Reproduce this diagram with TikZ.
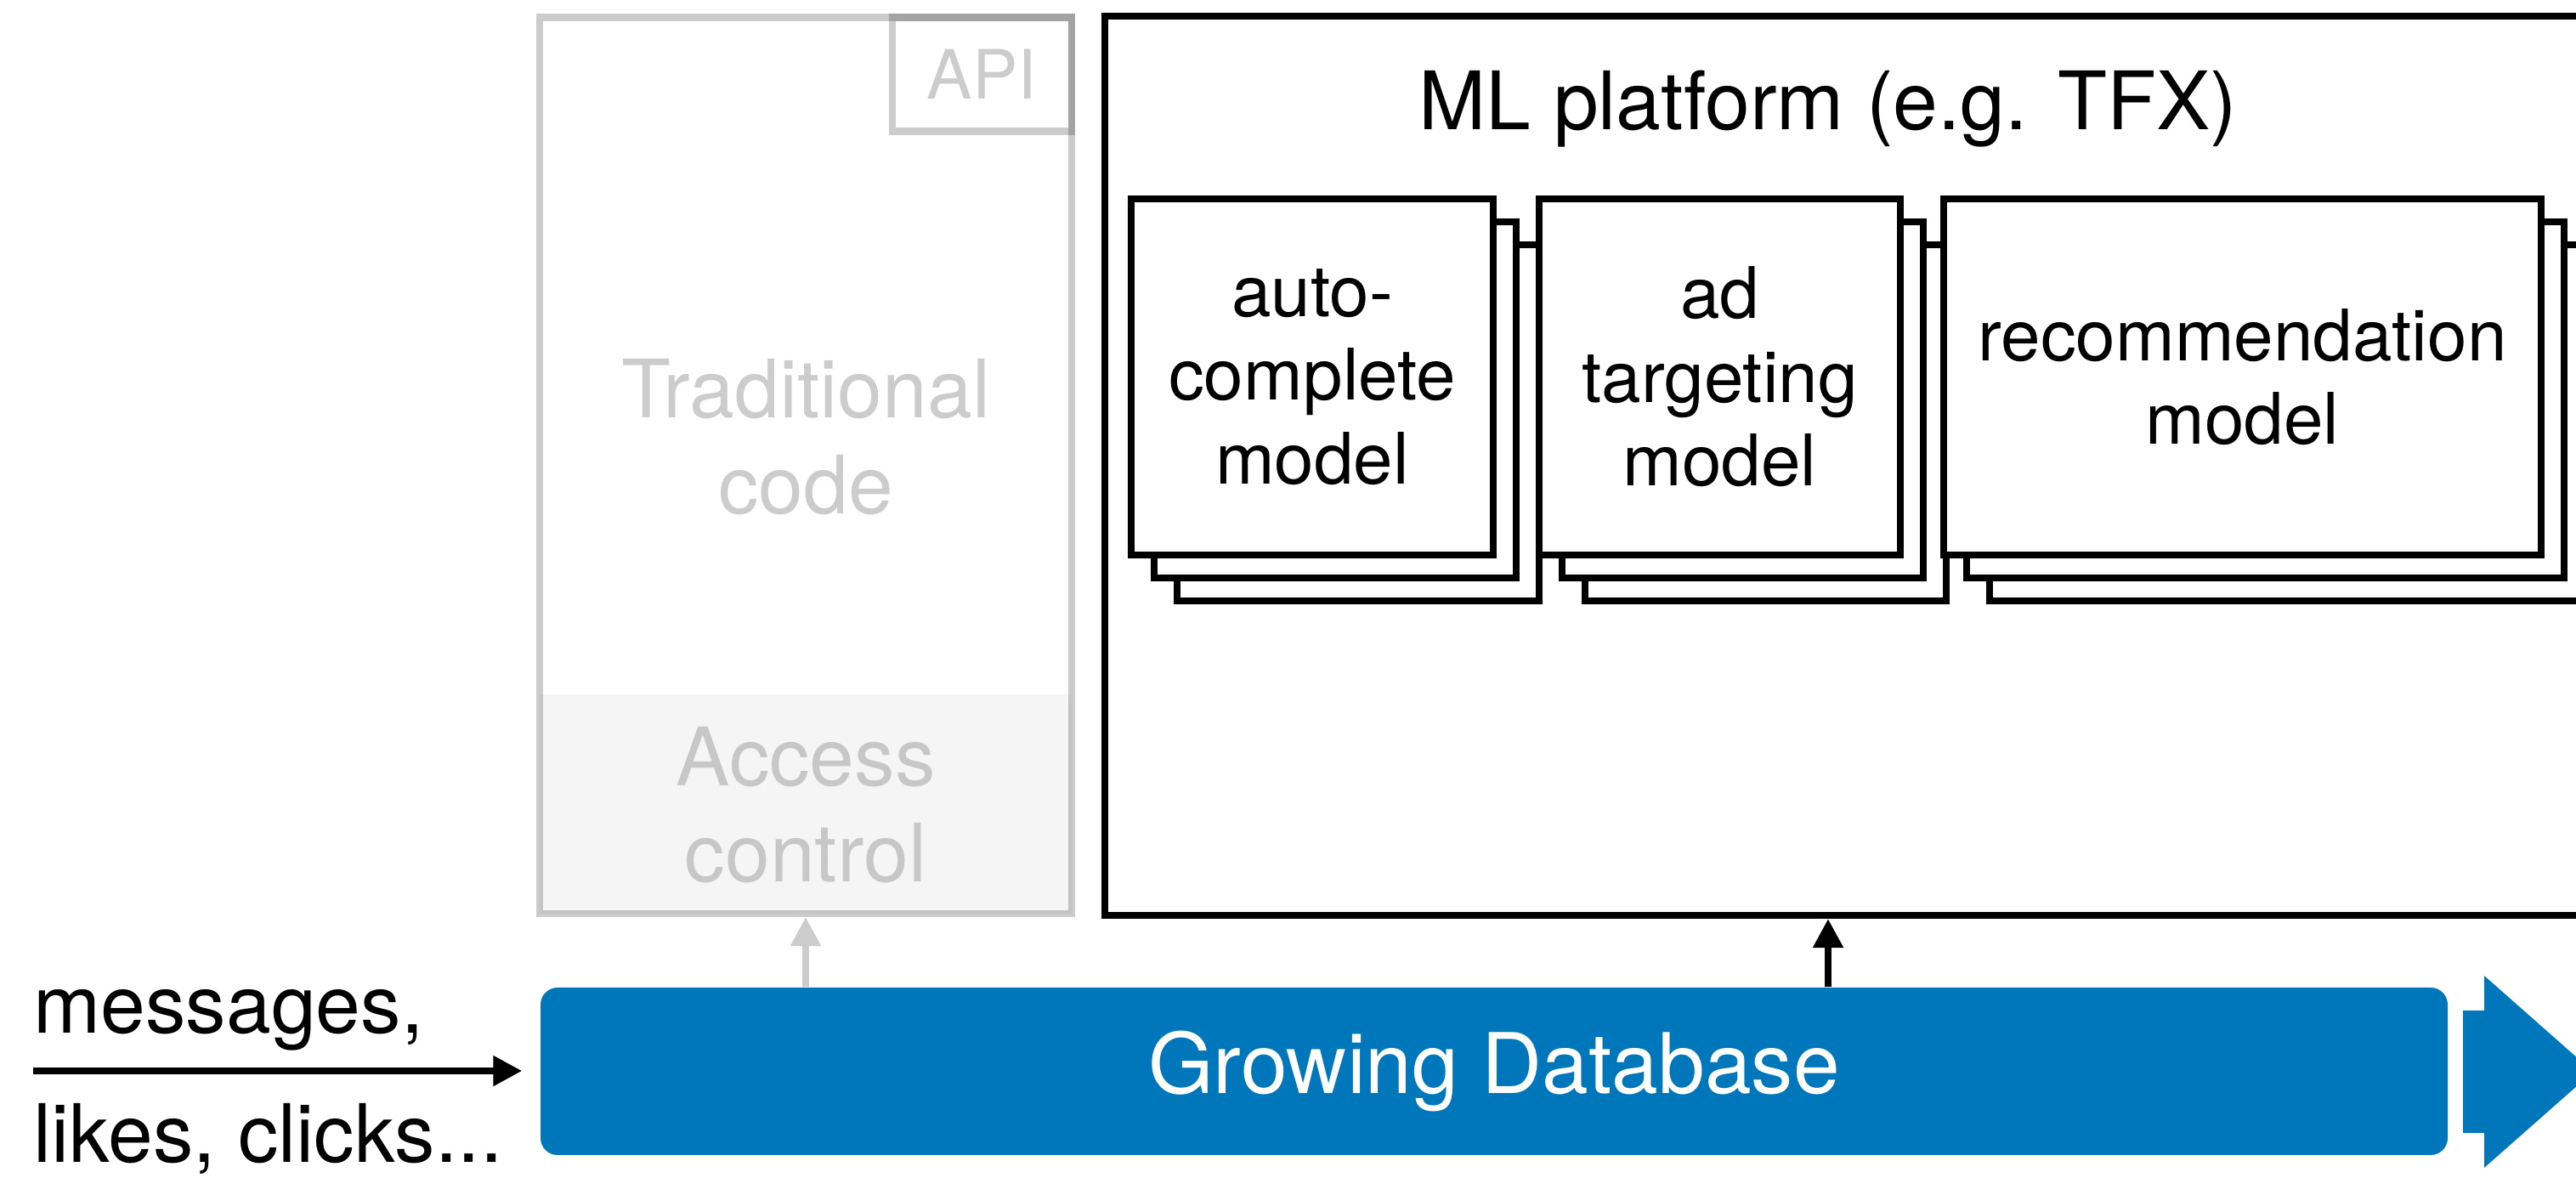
\documentclass[tikz,border=0pt]{standalone}
\usepackage{fontspec}
\setmainfont{TeX Gyre Heros}
\usepackage{xcolor}
\usepackage{tikz}
\usetikzlibrary{arrows.meta,positioning}
\definecolor{dbblue}{HTML}{0077BA}

\begin{document}
\begin{tikzpicture}[
    greybox/.style={draw=black, draw opacity=0.2, line width=2.3pt},
    modelbox/.style={draw, line width=2.1pt, fill=white, minimum height=4.19cm, align=center, font=\fontsize{23.8}{28}\selectfont},
    bigtext/.style={font=\fontsize{27}{32}\selectfont, align=center},
    uparrow/.style={line width=2.3pt, -{Triangle[length=0.34cm,width=0.34cm]}}
]
\useasboundingbox (0,0) rectangle (30.31,13.86);
\clip (0,0) rectangle (30.31,13.86);

% Traditional code
\fill[black!4] (6.35,3.11) rectangle (12.61,5.69);
\node[greybox, minimum width=6.26cm, minimum height=10.545cm] (trad) at (9.48,8.3825) {};
\node[greybox, minimum width=2.11cm, minimum height=1.34cm, text=black!20, font=\fontsize{22.8}{27}\selectfont] (api) at (11.555,12.985) {API};
\node[bigtext, text=black!20] (tradtext) at (9.48,8.72) {Traditional\\code};
\node[bigtext, text=black!22] (access) at (9.48,4.39) {Access\\control};

% ML platform
\node[draw, line width=2.3pt, minimum width=18.5cm, minimum height=10.58cm] (ml) at (22.25,8.38) {};
\node[bigtext] (title) at (21.51,12.58) {ML platform (e.g. TFX)};

% Model stacks
\foreach \n/\x/\w/\txt in {ac/15.44/4.26/{auto-\\complete\\model}, ad/20.235/4.25/{ad\\targeting\\model}, rec/26.385/7.03/{recommendation\\model}} {
    \node[modelbox, minimum width=\w cm] (\n3) at (\x+0.54,9.425-0.54) {};
    \node[modelbox, minimum width=\w cm] (\n2) at (\x+0.27,9.425-0.27) {};
    \node[modelbox, minimum width=\w cm] (\n) at (\x,9.425) {\txt};
}

% Database
\node[fill=dbblue, rounded corners=0.2cm, minimum width=22.44cm, minimum height=1.97cm, text=white, font=\fontsize{28}{33}\selectfont] (db) at (17.58,1.255) {Growing Database};
\fill[dbblue] (28.98,1.97) -- (29.23,1.97) -- (29.23,2.38) -- (30.51,1.25) -- (29.23,0.12) -- (29.23,0.53) -- (28.98,0.53) -- cycle;

% Incoming data
\node[bigtext, anchor=base west, inner sep=0pt] (msg) at (0.39,1.70) {messages,};
\node[bigtext, anchor=base west, inner sep=0pt] (likes) at (0.39,0.18) {likes, clicks...};
\coordinate (src) at (0.39,1.26);
\draw[uparrow, shorten >=0.21cm] (src) -- (src -| db.west);

% Reads from the database
\draw[uparrow, black!20] (db.north -| trad.south) -- (trad.south);
\draw[uparrow] (db.north -| title.south) -- (title |- ml.south);
\end{tikzpicture}
\end{document}
